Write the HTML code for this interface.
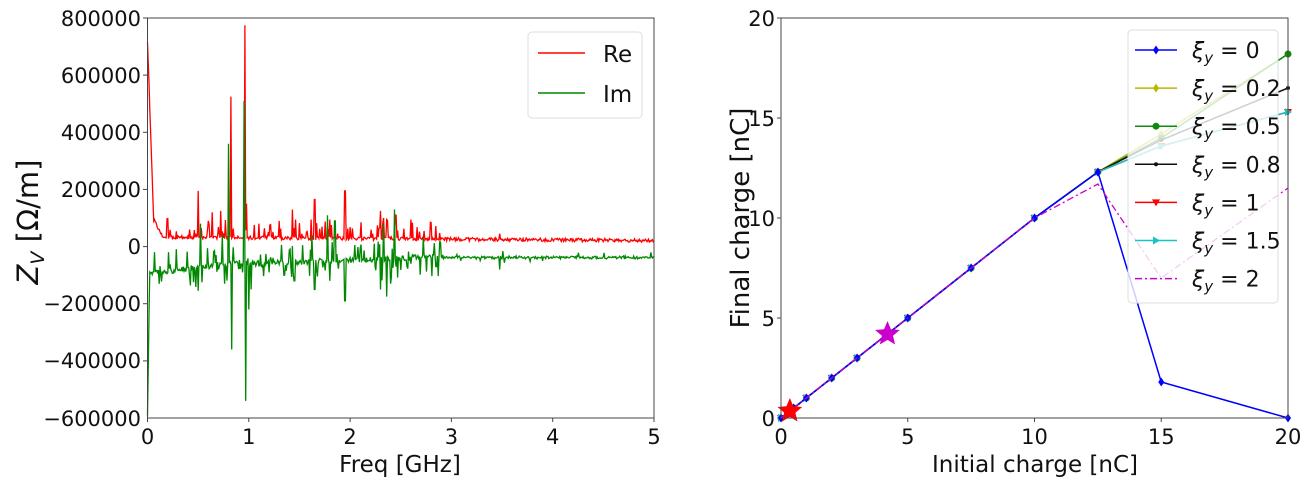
<!DOCTYPE html>
<html><head><meta charset="utf-8"><style>
html,body{margin:0;padding:0;background:#fff;}
svg{display:block;font-family:"DejaVu Sans","Liberation Sans",sans-serif;}
</style></head><body>
<svg id="s" width="1310" height="486" viewBox="0 0 1310 486" xmlns="http://www.w3.org/2000/svg">
<rect width="1310" height="486" fill="#fff"/>
<g id="left"></g>
<rect x="147.5" y="18" width="506.5" height="400" fill="none" stroke="#444" stroke-width="1"/>
<g font-size="21" fill="#111" text-anchor="end">
<text x="141" y="26">800000</text>
<text x="141" y="83">600000</text>
<text x="141" y="140">400000</text>
<text x="141" y="197">200000</text>
<text x="141" y="254">0</text>
<text x="141" y="311">−200000</text>
<text x="141" y="368">−400000</text>
<text x="141" y="426">−600000</text>
</g>
<g stroke="#444"><line x1="143" x2="147.5" y1="18" y2="18"/><line x1="143" x2="147.5" y1="75.1" y2="75.1"/><line x1="143" x2="147.5" y1="132.3" y2="132.3"/><line x1="143" x2="147.5" y1="189.4" y2="189.4"/><line x1="143" x2="147.5" y1="246.6" y2="246.6"/><line x1="143" x2="147.5" y1="303.7" y2="303.7"/><line x1="143" x2="147.5" y1="360.9" y2="360.9"/>
<line x1="147.5" x2="147.5" y1="418" y2="422"/><line x1="248.8" x2="248.8" y1="418" y2="422"/><line x1="350.1" x2="350.1" y1="418" y2="422"/><line x1="451.4" x2="451.4" y1="418" y2="422"/><line x1="552.7" x2="552.7" y1="418" y2="422"/><line x1="654" x2="654" y1="418" y2="422"/></g>
<g font-size="21" fill="#111" text-anchor="middle">
<text x="147.5" y="444">0</text><text x="248.8" y="444">1</text><text x="350.1" y="444">2</text><text x="451.4" y="444">3</text><text x="552.7" y="444">4</text><text x="654" y="444">5</text>
</g>
<text x="400" y="472" font-size="23" text-anchor="middle" fill="#111">Freq [GHz]</text>
<text transform="translate(38,222) rotate(-90)" font-size="29" text-anchor="middle" fill="#111"><tspan font-style="italic">Z</tspan><tspan font-size="19" font-style="italic" dy="6">V</tspan><tspan dy="-6"> [Ω/m]</tspan></text>
<rect x="528" y="32" width="114" height="86" rx="4" fill="#fff" fill-opacity="0.85" stroke="#ddd"/>
<line x1="538" x2="585" y1="53" y2="53" stroke="#f00" stroke-width="1.5"/>
<line x1="538" x2="585" y1="93" y2="93" stroke="#080" stroke-width="1.5"/>
<text x="603" y="62" font-size="23" fill="#111">Re</text>
<text x="603" y="102" font-size="23" fill="#111">Im</text>

<g id="right"></g>
<rect x="781" y="18" width="507" height="400" fill="none" stroke="#444" stroke-width="1"/>
<g font-size="21" fill="#111" text-anchor="end">
<text x="775" y="26">20</text><text x="775" y="126">15</text><text x="775" y="226">10</text><text x="775" y="326">5</text><text x="775" y="426">0</text>
</g>
<g font-size="21" fill="#111" text-anchor="middle">
<text x="781" y="444">0</text><text x="907.75" y="444">5</text><text x="1034.5" y="444">10</text><text x="1161.25" y="444">15</text><text x="1288" y="444">20</text>
</g>
<g stroke="#444"><line x1="777" x2="781" y1="18" y2="18"/><line x1="777" x2="781" y1="118" y2="118"/><line x1="777" x2="781" y1="218" y2="218"/><line x1="777" x2="781" y1="318" y2="318"/>
<line x1="907.75" x2="907.75" y1="418" y2="422"/><line x1="1034.5" x2="1034.5" y1="418" y2="422"/><line x1="1161.25" x2="1161.25" y1="418" y2="422"/></g>
<text x="1035" y="472" font-size="23" text-anchor="middle" fill="#111">Initial charge [nC]</text>
<text transform="translate(749,218) rotate(-90)" font-size="26" text-anchor="middle" fill="#111">Final charge [nC]</text>
<rect x="1128" y="30" width="150" height="273" rx="4" fill="#fff" fill-opacity="0.8" stroke="#ddd"/>
<g id="leg"></g>
</svg>
<script>
var NS="http://www.w3.org/2000/svg";
function el(p,t,a){var e=document.createElementNS(NS,t);for(var k in a)e.setAttribute(k,a[k]);p.appendChild(e);return e;}
var seed=7;function rnd(){seed=(seed*16807)%2147483647;return seed/2147483647;}
var X=function(f){return 147.5+f*101.3;},Y=function(v){return 246.6-v*400/1.4e6;};
var N=650,re=[],im=[];
var rs=[[0.5,195000],[0.6,90000],[0.64,120000],[0.72,125000],[0.82,525000],[0.96,775000],[0.98,150000],[1.1,80000],[1.3,90000],[1.43,130000],[1.46,95000],[1.65,165000],[1.72,70000],[1.8,95000],[1.95,195000],[2.3,125000],[2.33,100000],[2.36,95000],[2.45,110000],[2.6,95000],[2.73,55000],[3.48,45000]];
var is=[[0.5,-155000],[0.52,80000],[0.7,-80000],[0.74,40000],[0.8,360000],[0.83,-360000],[0.955,510000],[0.97,-540000],[1.0,-220000],[1.02,-150000],[1.2,-90000],[1.35,-100000],[1.45,-120000],[1.62,40000],[1.65,-150000],[1.78,110000],[1.8,-120000],[1.85,90000],[1.95,-190000],[2.3,-150000],[2.33,80000],[2.36,-175000],[2.4,-130000],[2.44,130000],[2.6,-60000],[2.85,-70000],[3.48,-80000],[3.9,-50000]];
for(var i=0;i<=N;i++){var f=i*5/N;
 var b=f<0.06?720000-(720000-95000)*f/0.06:(f<0.15?95000-(f-0.06)*700000:32000-f*2400);
 var r=b+(rnd()-0.4)*12000;
 if(f>0.15&&f<2.9&&rnd()<0.18)r+=15000+rnd()*55000;
 var ib=f<0.02?-600000+f*25e6:(f<1?-95000+f*45000:(f<2.9?-60000+(f-1)*13000:-38000+(rnd()-0.5)*4000));
 var m=ib+(rnd()-0.5)*20000*(f<2.9?1:0.4);
 if(f>0.05&&f<2.9&&rnd()<0.22)m+=(rnd()<0.5?-1:1)*(20000+rnd()*50000);
 if(f>2.9&&rnd()<0.04)m+=(rnd()-0.5)*40000;
 rs.forEach(function(s){if(Math.abs(f-s[0])<0.004)r=s[1];});
 is.forEach(function(s){if(Math.abs(f-s[0])<0.004)m=s[1];});
 re.push(X(f).toFixed(1)+","+Y(r).toFixed(1));im.push(X(f).toFixed(1)+","+Y(m).toFixed(1));}
var L=document.getElementById("left");
el(L,"polyline",{points:re.join(" "),fill:"none",stroke:"#f00","stroke-width":1.3});
el(L,"polyline",{points:im.join(" "),fill:"none",stroke:"#080","stroke-width":1.3});
var RX=function(v){return 781+v*25.35;},RY=function(v){return 418-v*20;};
var xs=[0,0.25,0.5,1,2,3,5,7.5,10,12.5,15,20];
var base=[0,0.25,0.5,1,2,3,5,7.5,10,12.3];
var ser=[["#b8b800",[14.2,18.2],"d"],["#118811",[14,18.2],"o"],["#111",[13.9,16.5],"p"],["#f00",[13.6,15.3],"v"],["#19c3c3",[13.6,15.3],">"],["#00f",[1.8,0],"d"]];
var R=document.getElementById("right");
function mk(g,x,y,t,c){if(t=="o")el(g,"circle",{cx:x,cy:y,r:3.5,fill:c});else if(t=="d")el(g,"polygon",{points:(x)+","+(y-4.5)+" "+(x+3)+","+y+" "+x+","+(y+4.5)+" "+(x-3)+","+y,fill:c});else if(t=="v")el(g,"polygon",{points:(x-4)+","+(y-3)+" "+(x+4)+","+(y-3)+" "+x+","+(y+4),fill:c});else if(t==">")el(g,"polygon",{points:(x-3)+","+(y-4)+" "+(x+4)+","+y+" "+(x-3)+","+(y+4),fill:c});else el(g,"circle",{cx:x,cy:y,r:2,fill:c});}
ser.forEach(function(s){var ys=base.concat(s[1]);var pts=xs.map(function(x,i){return RX(x)+","+RY(ys[i]);});
 el(R,"polyline",{points:pts.join(" "),fill:"none",stroke:s[0],"stroke-width":1.5});
 xs.forEach(function(x,i){mk(R,RX(x),RY(ys[i]),s[2],s[0]);});});
var m2=base.slice(0,9).concat([11.7,7,11.5]);
el(R,"polyline",{points:xs.map(function(x,i){return RX(x)+","+RY(m2[i]);}).join(" "),fill:"none",stroke:"#c0c","stroke-width":1.3,"stroke-dasharray":"7,3,2,3"});
function star(cx,cy,r,c){var p=[];for(var k=0;k<10;k++){var a=-Math.PI/2+k*Math.PI/5,rr=k%2?r*0.45:r;p.push((cx+rr*Math.cos(a)).toFixed(1)+","+(cy+rr*Math.sin(a)).toFixed(1));}el(R,"polygon",{points:p.join(" "),fill:c});}
star(RX(0.35),RY(0.35),13,"#f00");star(RX(4.2),RY(4.2),13,"#c0c");
var G=document.getElementById("leg");
var le=[["#00f","d","0"],["#b8b800","d","0.2"],["#118811","o","0.5"],["#111","p","0.8"],["#f00","v","1"],["#19c3c3",">","1.5"],["#c0c","","2"]];
le.forEach(function(e,i){var y=50+i*38.1;
 var a={x1:1135,x2:1177,y1:y,y2:y,stroke:e[0],"stroke-width":1.5};if(!e[1])a["stroke-dasharray"]="7,3,2,3";el(G,"line",a);
 if(e[1])mk(G,1156,y,e[1],e[0]);
 var t=el(G,"text",{x:1192,y:y+8,"font-size":22,fill:"#111"});
 t.innerHTML='<tspan font-style="italic">ξ</tspan><tspan font-style="italic" font-size="15" dy="5">y</tspan><tspan dy="-5"> = '+e[2]+'</tspan>';});
</script>
</body></html>
